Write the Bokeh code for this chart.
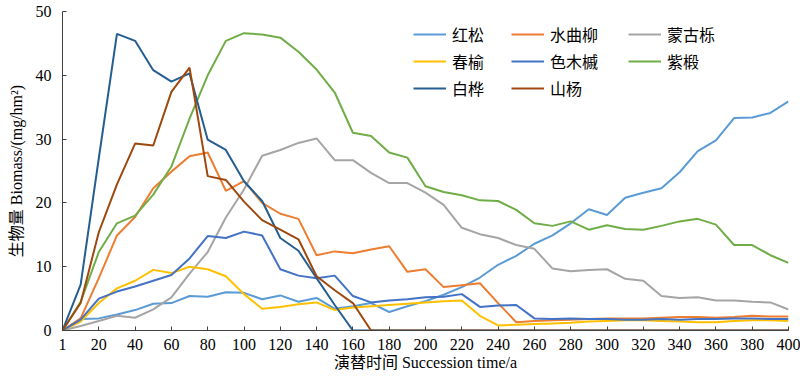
from bokeh.plotting import figure
from bokeh.models import Range1d, FixedTicker, Legend, LegendItem
from bokeh.embed import file_html
from bokeh.resources import INLINE

# Succession time (a) - category positions on the x axis
times = [1] + list(range(10, 401, 10))
tick_times = [1] + list(range(20, 401, 20))
y_ticks = [0, 10, 20, 30, 40, 50]

species = ["红松", "水曲柳", "蒙古栎", "春榆", "色木槭", "紫椴", "白桦", "山杨"]
colors = ["#5B9BD5", "#ED7D31", "#A5A5A5", "#FFC000", "#4472C4", "#70AD47", "#255E91", "#9E480E"]

hongsong = [0, 1.8, 1.9, 2.5, 3.2, 4.2, 4.3, 5.4, 5.3, 6.0,
            5.9, 4.9, 5.5, 4.5, 5.1, 3.4, 3.8, 4.3, 2.9, 3.8,
            4.6, 5.6, 6.8, 8.3, 10.3, 11.7, 13.6, 14.9, 16.8, 19.0,
            18.1, 20.8, 21.6, 22.3, 24.8, 28.1, 29.8, 33.3, 33.4, 34.1,
            35.9]
shuiquliu = [0, 1.9, 8.2, 14.9, 17.8, 22.3, 24.9, 27.3, 27.9, 21.9,
             23.4, 20.0, 18.3, 17.5, 11.8, 12.4, 12.1, 12.7, 13.2, 9.2,
             9.6, 6.8, 7.1, 7.4, 4.3, 1.3, 1.5, 1.6, 1.7, 1.8,
             1.9, 1.9, 1.9, 2.0, 2.1, 2.1, 2.0, 2.1, 2.3, 2.2,
             2.2]
menggulì = [0, 0.7, 1.5, 2.3, 2.0, 3.3, 5.2, 8.9, 12.3, 17.7,
            22.1, 27.4, 28.3, 29.4, 30.1, 26.7, 26.7, 24.7, 23.1, 23.1,
            21.6, 19.7, 16.1, 15.1, 14.5, 13.4, 12.8, 9.7, 9.3, 9.5,
            9.6, 8.1, 7.8, 5.4, 5.1, 5.2, 4.7, 4.7, 4.5, 4.4,
            3.3]
chunyu = [0, 1.4, 4.3, 6.6, 7.8, 9.5, 9.0, 10.0, 9.6, 8.5,
          5.7, 3.4, 3.7, 4.1, 4.4, 3.2, 3.6, 3.8, 4.0, 4.2,
          4.4, 4.6, 4.7, 2.3, 0.8, 0.9, 1.0, 1.1, 1.2, 1.4,
          1.5, 1.6, 1.6, 1.5, 1.4, 1.3, 1.3, 1.5, 1.6, 1.6,
          1.5]
semuqi = [0, 1.7, 5.0, 6.1, 6.9, 7.8, 8.7, 11.3, 14.8, 14.5,
          15.5, 14.9, 9.6, 8.6, 8.2, 8.6, 5.4, 4.4, 4.7, 4.9,
          5.2, 5.3, 5.7, 3.7, 3.9, 4.0, 1.9, 1.8, 1.9, 1.8,
          1.8, 1.7, 1.7, 1.8, 1.7, 1.8, 1.8, 1.9, 1.9, 1.8,
          1.8]
ziduan = [0, 4.5, 12.3, 16.8, 18.0, 21.3, 25.7, 33.2, 40.0, 45.4,
          46.6, 46.4, 45.9, 43.7, 40.9, 37.3, 31.0, 30.5, 27.9, 27.1,
          22.6, 21.7, 21.2, 20.4, 20.3, 18.9, 16.8, 16.4, 17.1, 15.8,
          16.5, 15.9, 15.8, 16.4, 17.1, 17.5, 16.6, 13.4, 13.4, 11.8,
          10.6]
baihua = [0, 7.2, 27.0, 46.5, 45.4, 40.8, 39.0, 40.3, 29.9, 28.3,
          23.4, 20.3, 14.5, 12.5, 8.2, 4.0, 0, 0, 0, 0,
          0, 0, 0, 0, 0, 0, 0, 0, 0, 0,
          0, 0, 0, 0, 0, 0, 0, 0, 0, 0,
          0]
shanyang = [0, 4.3, 15.4, 22.9, 29.3, 29.0, 37.4, 41.2, 24.2, 23.6,
            20.2, 17.3, 15.8, 14.3, 8.5, 6.3, 4.3, 0, 0, 0,
            0, 0, 0, 0, 0, 0, 0, 0, 0, 0,
            0, 0, 0, 0, 0, 0, 0, 0, 0, 0,
            0]

series = [hongsong, shuiquliu, menggulì, chunyu, semuqi, ziduan, baihua, shanyang]

pos = list(range(len(times)))

SERIF = "Liberation Serif, Noto Sans CJK SC"

TOP = 11
FRAME_H = 376 - TOP - 46
p = figure(width=800, height=376, output_backend="svg", toolbar_location=None,
           x_range=Range1d(0, len(times) - 1), y_range=Range1d(0, 50),
           min_border_left=62, min_border_right=12, min_border_top=TOP, min_border_bottom=46)
p.outline_line_color = None
p.xgrid.visible = False
p.ygrid.visible = False
p.background_fill_color = "white"

renderers = []
for name, vals, c in zip(species, series, colors):
    r = p.line(pos, vals, line_color=c, line_width=2)
    renderers.append(r)

# axes
for ax in (p.xaxis[0], p.yaxis[0]):
    ax.axis_line_color = "#404040"
    ax.axis_line_width = 1
    ax.major_tick_line_color = "#404040"
    ax.major_tick_in = 4
    ax.major_tick_out = 0
    ax.minor_tick_line_color = None
    ax.major_label_text_font = "Liberation Serif"
    ax.major_label_text_font_size = "16px"
    ax.major_label_text_color = "#000000"
    ax.axis_label_text_font = SERIF
    ax.axis_label_text_font_size = "16px"
    ax.axis_label_text_font_style = "normal"
    ax.axis_label_text_color = "#000000"

p.xaxis.ticker = FixedTicker(ticks=[pos[times.index(t)] for t in tick_times])
p.xaxis.major_label_overrides = {pos[times.index(t)]: str(t) for t in tick_times}
p.xaxis.axis_label = "演替时间 Succession time/a"
p.xaxis.major_label_standoff = 8
p.xaxis.axis_label_standoff = 1

p.yaxis.ticker = FixedTicker(ticks=y_ticks)
p.yaxis.axis_label = "生物量 Biomass/(mg/hm²)"
p.yaxis.major_label_standoff = 11
p.yaxis.axis_label_standoff = 8

# legend: three columns, row-major order
ITEM_H = 24
SPACING = 3
cols = [[0, 3, 6], [1, 4, 7], [2, 5]]
col_x = [351, 449, 566]
for idxs, vx in zip(cols, col_x):
    items = [LegendItem(label=species[i], renderers=[renderers[i]]) for i in idxs]
    lh = len(idxs) * ITEM_H + (len(idxs) - 1) * SPACING
    lg = Legend(items=items, location=(vx, FRAME_H - (34 - TOP - ITEM_H // 2) - lh),
                orientation="vertical",
                padding=0, margin=0, spacing=SPACING, glyph_width=33, glyph_height=20,
                label_height=20, label_standoff=6,
                label_text_font="Noto Sans CJK SC", label_text_font_size="16px",
                label_text_color="#000000",
                border_line_color=None, background_fill_alpha=0)
    p.add_layout(lg)

open("out.html", "w").write(file_html(p, INLINE))
